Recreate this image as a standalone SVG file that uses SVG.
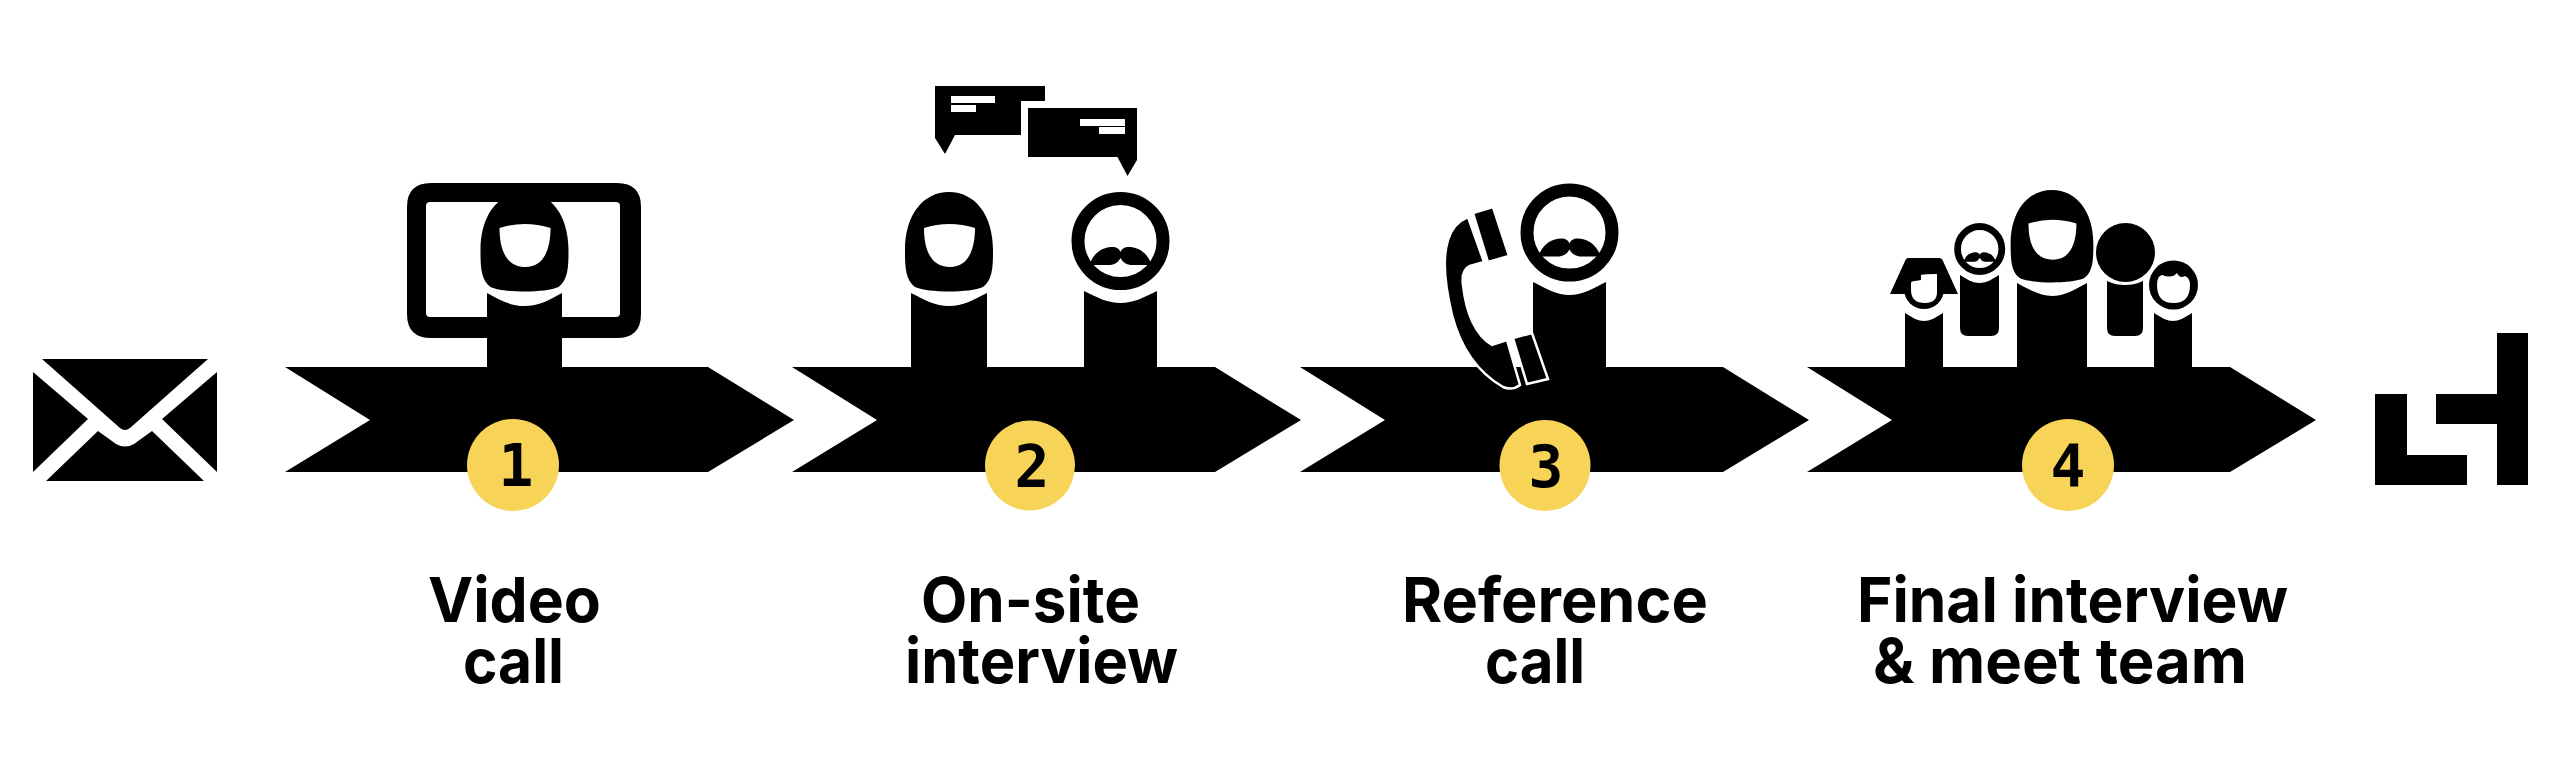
<svg xmlns="http://www.w3.org/2000/svg" xmlns:xlink="http://www.w3.org/1999/xlink" width="2560" height="782" viewBox="0 0 2560 782">
<style>
.k{fill:#000}
.e{fill-rule:evenodd}
.w{fill:#fff}
.y{fill:#f7d358}
.lab{font-family:"Inter","Liberation Sans",sans-serif;font-weight:700;font-size:62px;fill:#000}
.num{font-family:"DejaVu Sans Mono",monospace;font-weight:700;font-size:58px;fill:#000;text-anchor:middle}
.ph{fill:#000;stroke:#fff;stroke-width:2.5}
</style>
<defs>
<path id="hijab" class="k e" d="M0,0C26,0 44,23 44,58C44,73 44,88 34,95C21,101 -21,101 -34,95C-44,88 -44,73 -44,58C-44,23 -26,0 0,0ZM-25,36Q0,28 26,36C26,58 19,75 1,75C-18,75 -25,58 -25,36Z"/>
<g id="man">
<circle cx="0" cy="0" r="42.5" fill="none" stroke="#000" stroke-width="13"/>
<path class="k" d="M-31,24C-27,11 -17,6 -8,6C-4,6 -1,8 0,11C1,8 4,6 8,6C17,6 27,11 31,24L10,24Q3,23 0,17Q-3,23 -10,24Z"/>
</g>
<path id="arrow" class="k" d="M0,0H423L509,53L423,105H0L85,53Z"/>
</defs>

<g id="connectors">
<use href="#arrow" x="285" y="367"/>
<use href="#arrow" x="792" y="367"/>
<use href="#arrow" x="1300" y="367"/>
<use href="#arrow" x="1807" y="367"/>
</g>

<g id="envelope">
<path class="k" d="M42,359H208L130,428Q125,432 120,428Z"/>
<path class="k" d="M33,372L88,419L33,472Z"/>
<path class="k" d="M217,372L162,419L217,472Z"/>
<path class="k" d="M46,481L98,431L116,444Q125,449 134,444L152,431L204,481Z"/>
</g>

<g id="step1">
<use href="#hijab" transform="translate(524.5,192)"/>
<path class="k e" d="M431,183H617Q641,183 641,207V314Q641,338 617,338H431Q407,338 407,314V207Q407,183 431,183ZM430,202Q426,202 426,206V313Q426,317 430,317H616Q620,317 620,313V206Q620,202 616,202Z"/>
<path class="k" d="M487,293C500,300 510,306 524.5,306C539,306 549,300 562,293V370H487Z"/>
<circle class="y" cx="513" cy="465" r="46"/>
<text class="num" x="516" y="486">1</text>
<text class="lab" x="428" y="622" textLength="173" lengthAdjust="spacingAndGlyphs">Video</text>
<text class="lab" x="463" y="683" textLength="101" lengthAdjust="spacingAndGlyphs">call</text>
</g>

<g id="step2">
<use href="#hijab" transform="translate(949,192)"/>
<path class="k" d="M911,293C925,300 935,306 949,306C963,306 973,300 987,293V370H911Z"/>
<use href="#man" transform="translate(1120.5,241)"/>
<path class="k" d="M1084,291C1098,298 1108,303 1120.5,303C1133,303 1143,298 1157,291V370H1084Z"/>
<path class="k" d="M935,86H1045V101H1021V135H955L945,154L935,138Z"/>
<rect class="w" x="951" y="96" width="44" height="7"/>
<rect class="w" x="951" y="105" width="25" height="7"/>
<path class="k" d="M1028,108H1137V160L1127.500,176L1117.500,157H1028Z"/>
<rect class="w" x="1080" y="119" width="45" height="7"/>
<rect class="w" x="1099" y="127" width="26" height="7"/>
<circle class="y" cx="1030" cy="465.500" r="45"/>
<text class="num" x="1032" y="487">2</text>
<text class="lab" x="921" y="622" textLength="219" lengthAdjust="spacingAndGlyphs">On-site</text>
<text class="lab" x="905" y="683" textLength="273" lengthAdjust="spacingAndGlyphs">interview</text>
</g>

<g id="step3">
<use href="#man" transform="translate(1569.500,232.500)"/>
<path class="k" d="M1533,282C1547,289 1557,295 1569.500,295C1582,295 1592,289 1606,282V370H1533Z"/>
<path class="ph" d="M1468,217L1484,262L1470,266Q1461,270 1463,285Q1468,330 1492,345L1507,340L1520,385Q1512,391 1503,387Q1465,365 1452,315Q1440,265 1448,240Q1453,223 1468,217Z"/>
<path class="ph" d="M1473,213L1493,207L1509,256L1488,262Z"/>
<path class="ph" d="M1513,338L1532,333L1548,379L1527,384Z"/>
<circle class="y" cx="1545" cy="465.500" r="45.500"/>
<text class="num" x="1546" y="487">3</text>
<text class="lab" x="1402" y="622" textLength="306" lengthAdjust="spacingAndGlyphs">Reference</text>
<text class="lab" x="1485" y="683" textLength="100" lengthAdjust="spacingAndGlyphs">call</text>
</g>

<g id="step4">
<path class="k" d="M1905,313C1913,318 1918,321 1924,321C1930,321 1935,318 1943,313V370H1905Z"/>
<path class="k" d="M1908,258H1939Q1942,258 1943,261L1958,294H1890L1905,261Q1906,258 1908,258Z"/>
<circle class="k" cx="1924" cy="289" r="20"/>
<path class="w" d="M1911,290V283Q1911,281 1915,281L1921,280V275Q1925,274 1937,274V292Q1937,303 1925,303Q1911,303 1911,290Z"/>
<path class="k" d="M1960,275C1968,280 1973,283 1979.500,283C1986,283 1991,280 1999,275V328Q1999,336 1991,336H1968Q1960,336 1960,328Z"/>
<use href="#man" transform="translate(1979.700,249) scale(.52,.53)"/>
<use href="#hijab" transform="translate(2052,190) scale(.94,.93)"/>
<path class="k" d="M2017,283C2030,290 2040,296 2052,296C2064,296 2074,290 2087,283V370H2017Z"/>
<path class="k" d="M2107,281C2114,284 2119,285 2125,285C2131,285 2136,284 2143,281V328Q2143,336 2135,336H2115Q2107,336 2107,328Z"/>
<ellipse class="k" cx="2125.500" cy="252.500" rx="29.500" ry="29.500"/>
<path class="k" d="M2154,313C2162,318 2167,321 2173,321C2179,321 2184,318 2192,313V370H2154Z"/>
<circle class="k" cx="2173.500" cy="285" r="24.500"/>
<path class="w" d="M2157,285Q2157,276 2162,275Q2172,279 2177,273Q2180,279 2185,276Q2190,278 2190,285Q2190,303 2173.500,303Q2157,303 2157,285Z"/>
<circle class="y" cx="2068" cy="465" r="46"/>
<text class="num" x="2068" y="486">4</text>
<text class="lab" x="1857" y="622" textLength="431" lengthAdjust="spacingAndGlyphs">Final interview</text>
<text class="lab" x="1873" y="683" textLength="374" lengthAdjust="spacingAndGlyphs">&amp; meet team</text>
</g>

<g id="logo">
<path class="k" d="M2375,394H2407V455H2467V485H2375Z"/>
<path class="k" d="M2497,333H2528V485H2497V424H2436V394H2497Z"/>
</g>
</svg>
